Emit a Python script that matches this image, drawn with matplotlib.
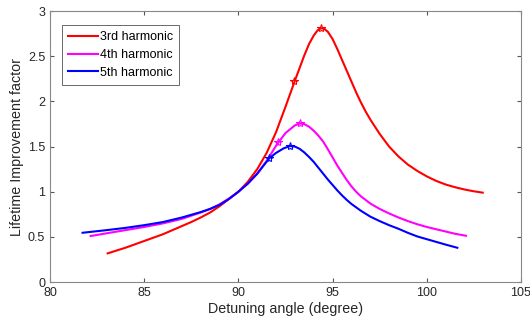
import matplotlib
matplotlib.use("Agg")
import matplotlib.pyplot as plt

plt.rcParams['font.family'] = ['Liberation Sans', 'DejaVu Sans']

# 3rd harmonic
x3 = [83.06, 84.0, 85.0, 86.0, 86.5, 87.0, 87.5, 88.0, 88.5, 89.0, 89.5, 90.0,
      90.5, 91.0, 91.5, 92.0, 92.5, 93.0, 93.5, 93.75, 94.0, 94.2, 94.38, 94.55,
      94.75, 95.0, 95.25, 95.5, 95.75, 96.0, 96.25, 96.5, 96.75, 97.0, 97.5, 98.0,
      98.5, 99.0, 99.5, 100.0, 100.5, 101.0, 101.5, 102.0, 102.5, 102.97]
y3 = [0.318, 0.38, 0.455, 0.53, 0.575, 0.62, 0.665, 0.715, 0.77, 0.84, 0.92, 1.00,
      1.11, 1.25, 1.43, 1.66, 1.94, 2.23, 2.51, 2.635, 2.73, 2.785, 2.81, 2.805,
      2.77, 2.69, 2.58, 2.46, 2.34, 2.22, 2.10, 1.99, 1.89, 1.80, 1.64, 1.50,
      1.39, 1.30, 1.23, 1.17, 1.12, 1.08, 1.05, 1.025, 1.005, 0.99]

# 4th harmonic
x4 = [82.16, 83.0, 84.0, 85.0, 86.0, 87.0, 88.0, 88.5, 89.0, 89.5, 90.0, 90.5,
      91.0, 91.5, 92.0, 92.5, 93.0, 93.27, 93.5, 93.75, 94.0, 94.25, 94.5, 94.75,
      95.0, 95.25, 95.5, 95.75, 96.0, 96.25, 96.5, 97.0, 97.5, 98.0, 98.5, 99.0,
      99.5, 100.0, 100.5, 101.0, 101.5, 102.08]
y4 = [0.51, 0.54, 0.575, 0.61, 0.65, 0.70, 0.77, 0.81, 0.86, 0.925, 1.00, 1.09,
      1.20, 1.34, 1.51, 1.65, 1.735, 1.757, 1.748, 1.72, 1.675, 1.62, 1.555, 1.47,
      1.38, 1.29, 1.21, 1.13, 1.06, 1.00, 0.95, 0.87, 0.81, 0.76, 0.715, 0.675,
      0.64, 0.61, 0.585, 0.56, 0.535, 0.513]

# 5th harmonic
x5 = [81.73, 83.0, 84.0, 85.0, 86.0, 87.0, 88.0, 88.5, 89.0, 89.5, 90.0, 90.5,
      91.0, 91.3, 91.64, 92.0, 92.4, 92.74, 93.0, 93.25, 93.5, 93.75, 94.0, 94.25,
      94.5, 94.75, 95.0, 95.25, 95.5, 95.75, 96.0, 96.5, 97.0, 97.5, 98.0, 98.5,
      99.0, 99.5, 100.0, 100.5, 101.0, 101.62]
y5 = [0.546, 0.575, 0.60, 0.63, 0.665, 0.715, 0.775, 0.81, 0.855, 0.92, 1.00, 1.09,
      1.20, 1.28, 1.37, 1.43, 1.48, 1.506, 1.50, 1.475, 1.435, 1.385, 1.33, 1.265,
      1.20, 1.135, 1.075, 1.015, 0.96, 0.91, 0.865, 0.79, 0.725, 0.675, 0.63, 0.59,
      0.545, 0.505, 0.475, 0.445, 0.415, 0.38]

# marked points
mx3 = [92.97, 94.38]
my3 = [2.226, 2.81]
mx4 = [92.12, 93.27]
my4 = [1.547, 1.757]
mx5 = [91.64, 92.74]
my5 = [1.37, 1.506]

labels = ['3rd harmonic', '4th harmonic', '5th harmonic']
colors = ['#ff0000', '#ff00ff', '#0000ff']

fig = plt.figure(figsize=(5.3, 3.25), dpi=100)
ax = fig.add_axes([0.0943, 0.132, 0.8887, 0.834])

for xs, ys, mx, my, c, lab in [(x3, y3, mx3, my3, colors[0], labels[0]),
                                (x4, y4, mx4, my4, colors[1], labels[1]),
                                (x5, y5, mx5, my5, colors[2], labels[2])]:
    ax.plot(xs, ys, color=c, lw=1.5, label=lab)
    ax.plot(mx, my, linestyle='none', marker='*', color=c, markersize=6,
            markerfacecolor='none', markeredgewidth=0.8)

ax.set_xlim(80, 105)
ax.set_ylim(0, 3)
ax.set_xticks([80, 85, 90, 95, 100, 105])
ax.set_yticks([0, 0.5, 1, 1.5, 2, 2.5, 3])
ax.set_yticklabels(['0', '0.5', '1', '1.5', '2', '2.5', '3'])
ax.tick_params(direction='in', top=True, right=True, labelsize=9,
               color='#555555', labelcolor='#262626', length=3)
for s in ax.spines.values():
    s.set_color('#888888')
    s.set_linewidth(0.8)

ax.set_xlabel('Detuning angle (degree)', fontsize=10.3, color='#262626', labelpad=2)
ax.set_ylabel('Lifetime Improvement factor', fontsize=10.3, color='#262626', labelpad=3)

leg = ax.legend(loc='upper left', bbox_to_anchor=(0.0255, 0.948), fontsize=9,
                frameon=True, fancybox=False, handlelength=2.4, handletextpad=0.15,
                borderpad=0.5, labelspacing=0.45, borderaxespad=0)
leg.get_frame().set_edgecolor('#262626')
leg.get_frame().set_linewidth(0.6)

fig.savefig('out.png', dpi=100)
